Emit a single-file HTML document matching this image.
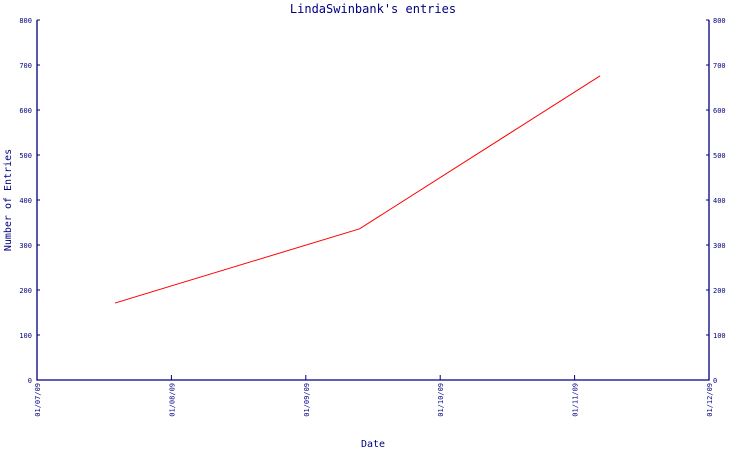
<!DOCTYPE html>
<html><head><meta charset="utf-8"><style>
body{margin:0;background:#fff}
svg text{font-family:"DejaVu Sans Mono","Liberation Mono",monospace;fill:#000080}
</style></head><body>
<svg id="chart" width="750" height="450" viewBox="0 0 750 450" xmlns="http://www.w3.org/2000/svg">
<text x="373" y="13" text-anchor="middle" font-size="12">LindaSwinbank's entries</text>
<text transform="translate(11,200) rotate(-90)" text-anchor="middle" font-size="10">Number of Entries</text>
<text x="373" y="447" text-anchor="middle" font-size="10">Date</text>
<g id="axes"></g>
<g id="series"></g>
</svg>
<script>
const yTicks=[0,100,200,300,400,500,600,700,800];
const xTickLabels=["01/07/09","01/08/09","01/09/09","01/10/09","01/11/09","01/12/09"];
const xTickMonths=[0,1,2,3,4,5];
const pointMonths=[0.58,2.40,4.19];
const pointValues=[171,336,676];
const L=37,R=709,T=20,B=380;
const NS="http://www.w3.org/2000/svg";
const xs=m=>L+(R-L)*m/5;
const ys=v=>B-(B-T)*v/800;
const ax=document.getElementById('axes');
function mk(tag,attrs,parent){const e=document.createElementNS(NS,tag);for(const k in attrs)e.setAttribute(k,attrs[k]);parent.appendChild(e);return e;}
const frame=mk('path',{d:`M${L},${T}V${B}H${R}V${T}`,fill:'none',stroke:'#000080','stroke-width':1.3},ax);


yTicks.forEach(v=>{
 const y=ys(v);
 const t1=mk('text',{x:L-5,y:y+3,'text-anchor':'end','font-size':7},ax);t1.textContent=v;
 
 
 const t2=mk('text',{x:R+4,y:y+3,'font-size':7},ax);t2.textContent=v;
 
 
 const k=mk('path',{d:`M${L},${y}h3M${R},${y}h-3`,stroke:'#000080'},ax);
 
 
});
xTickLabels.forEach((lab,i)=>{
 const x=xs(xTickMonths[i]);
 const k=mk('path',{d:`M${x},${B}v-5`,stroke:'#000080'},ax);
 
 
 const t=mk('text',{transform:`translate(${x+3},${B+3}) rotate(-90)`,'text-anchor':'end','font-size':7},ax);
 t.textContent=lab;
 
 
});
const pts=pointMonths.map((m,i)=>xs(m)+','+ys(pointValues[i])).join(' ');
const line=mk('polyline',{points:pts,fill:'none',stroke:'#ff0000','stroke-width':1},document.getElementById('series'));


</script>
</body></html>
